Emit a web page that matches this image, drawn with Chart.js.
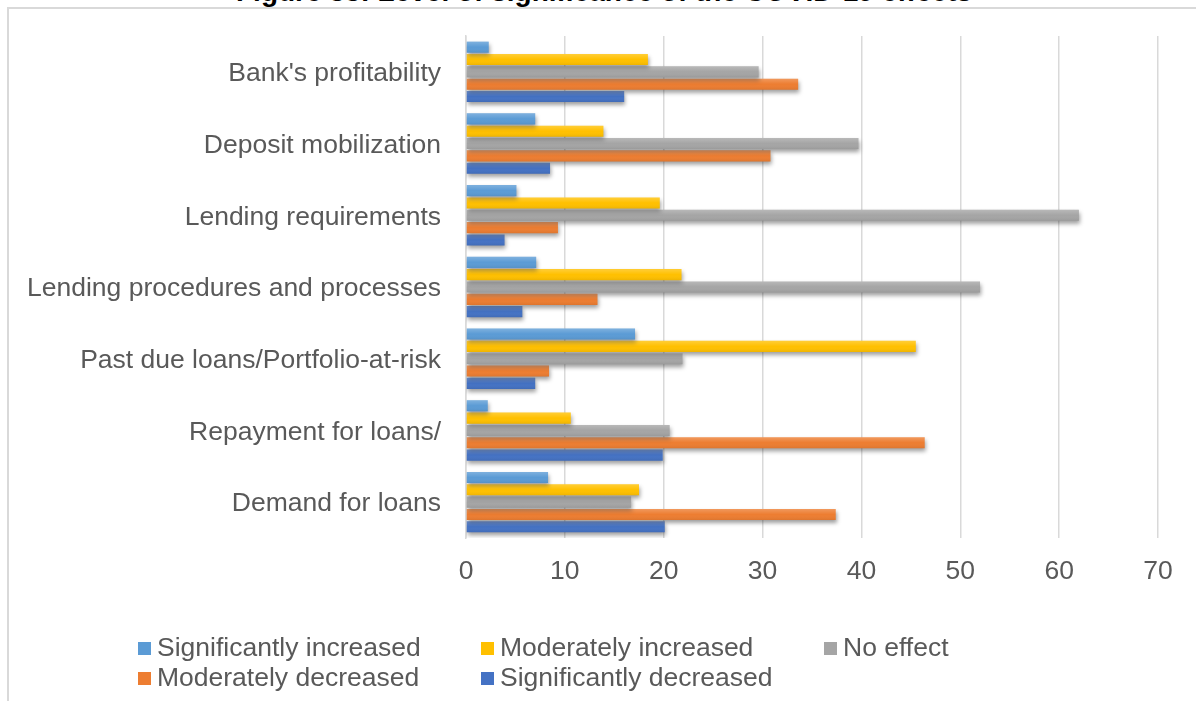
<!DOCTYPE html>
<html>
<head>
<meta charset="utf-8">
<script src="https://cdn.jsdelivr.net/npm/chart.js@4/dist/chart.umd.min.js"></script>
<style>
  body {
    margin: 0;
    width: 1196px;
    height: 701px;
    overflow: hidden;
    background: #ffffff;
    font-family: "Liberation Sans", Arial, sans-serif;
  }
  #title {
    position: absolute;
    left: 0;
    top: -22px;
    width: 1208px;
    text-align: center;
    font-weight: bold;
    font-size: 28px;
    line-height: 28px;
    color: #000000;
    white-space: nowrap;
  }
  #frame {
    position: absolute;
    left: 7px;
    top: 7px;
    width: 1300px;
    height: 1000px;
    border: 2px solid #d9d9d9;
  }
  #chart {
    position: absolute;
    left: 0;
    top: 0;
  }
  #legend {
    position: absolute;
    left: 138px;
    top: 632px;
    display: grid;
    grid-template-columns: 343px 343px 343px;
    font-size: 26.5px;
    line-height: 30px;
    color: #595959;
  }
  .item { white-space: nowrap; }
  .swatch {
    display: inline-block;
    width: 13px;
    height: 13px;
    margin-right: 6px;
    vertical-align: 1px;
  }
</style>
</head>
<body>
<div id="title">Figure 33: Level of significance of the COVID-19 effects</div>
<div id="frame"></div>
<canvas id="chart" width="1196" height="701"></canvas>
<div id="legend"></div>

<script>
// categories, top to bottom
const categories = [
  "Bank's profitability",
  "Deposit mobilization",
  "Lending requirements",
  "Lending procedures and processes",
  "Past due loans/Portfolio-at-risk",
  "Repayment for loans/",
  "Demand for loans"
];

// share of respondents (%)
const sigIncreased = [2.3, 7.0, 5.1, 7.1, 17.1, 2.2, 8.3];
const modIncreased = [18.4, 13.9, 19.6, 21.8, 45.5, 10.6, 17.5];
const noEffect = [29.6, 39.7, 62.0, 52.0, 21.9, 20.6, 16.7];
const modDecreased = [33.6, 30.8, 9.3, 13.3, 8.4, 46.4, 37.4];
const sigDecreased = [16.0, 8.5, 3.9, 5.7, 7.0, 19.9, 20.1];

const seriesNames = [
  "Significantly increased",
  "Moderately increased",
  "No effect",
  "Moderately decreased",
  "Significantly decreased"
];
const seriesColors = ["#5b9bd5", "#ffc000", "#a5a5a5", "#ed7d31", "#4472c4"];
const xTicks = [0, 10, 20, 30, 40, 50, 60, 70];

const seriesValues = [sigIncreased, modIncreased, noEffect, modDecreased, sigDecreased];

// drop shadow under the bars
const barShadow = {
  id: "barShadow",
  beforeDatasetsDraw(chart) {
    const ctx = chart.ctx;
    ctx.save();
    ctx.shadowColor = "rgba(0, 0, 0, 0.38)";
    ctx.shadowBlur = 4;
    ctx.shadowOffsetX = 1;
    ctx.shadowOffsetY = 3;
  },
  afterDatasetsDraw(chart) {
    chart.ctx.restore();
  }
};

// light top / dark bottom sheen on each bar
const barSheen = {
  id: "barSheen",
  afterDatasetsDraw(chart) {
    const ctx = chart.ctx;
    chart.data.datasets.forEach((ds, di) => {
      const meta = chart.getDatasetMeta(di);
      meta.data.forEach((bar) => {
        const p = bar.getProps(["x", "y", "base", "height"], true);
        const top = p.y - p.height / 2;
        const g = ctx.createLinearGradient(0, top, 0, top + p.height);
        g.addColorStop(0, "rgba(255,255,255,0.22)");
        g.addColorStop(0.5, "rgba(255,255,255,0)");
        g.addColorStop(1, "rgba(0,0,0,0.07)");
        ctx.fillStyle = g;
        ctx.fillRect(p.base, top, p.x - p.base, p.height);
      });
    });
  }
};

const datasets = seriesNames.map((name, i) => ({
  label: name,
  data: seriesValues[i],
  backgroundColor: seriesColors[i],
  borderWidth: 0,
  categoryPercentage: 0.86,
  barPercentage: 0.9
}));

const ctx = document.getElementById("chart").getContext("2d");
new Chart(ctx, {
  type: "bar",
  data: { labels: categories, datasets: datasets },
  options: {
    indexAxis: "y",
    responsive: false,
    animation: false,
    devicePixelRatio: 1,
    layout: { padding: { top: 36, right: 38, bottom: 0, left: 0 } },
    plugins: {
      legend: { display: false },
      tooltip: { enabled: false },
      title: { display: false }
    },
    scales: {
      y: {
        grid: { display: false, drawTicks: false },
        border: { display: true, color: "#d9d9d9", width: 1.5 },
        ticks: {
          color: "#595959",
          padding: 25,
          labelOffset: 2,
          font: { family: "'Liberation Sans', Arial, sans-serif", size: 26.5 }
        },
        afterFit(scale) {
          scale.width = 466;
          // labels sit inside their bands, no extra room needed above/below
          scale.paddingTop = 0;
          scale.paddingBottom = 0;
        }
      },
      x: {
        min: 0,
        max: 70,
        afterBuildTicks(scale) {
          scale.ticks = xTicks.map((v) => ({ value: v }));
        },
        grid: { color: "#d9d9d9", lineWidth: 1.5, drawTicks: false },
        border: { display: false },
        ticks: {
          color: "#595959",
          padding: 18,
          font: { family: "'Liberation Sans', Arial, sans-serif", size: 26.5 }
        },
        afterFit(scale) {
          scale.height = 163;
        }
      }
    }
  },
  plugins: [barShadow, barSheen]
});

// legend laid out in three columns
const legend = document.getElementById("legend");
seriesNames.forEach((name, i) => {
  const item = document.createElement("div");
  item.className = "item";
  const sw = document.createElement("span");
  sw.className = "swatch";
  sw.style.backgroundColor = seriesColors[i];
  item.appendChild(sw);
  item.appendChild(document.createTextNode(name));
  legend.appendChild(item);
});
</script>
</body>
</html>
